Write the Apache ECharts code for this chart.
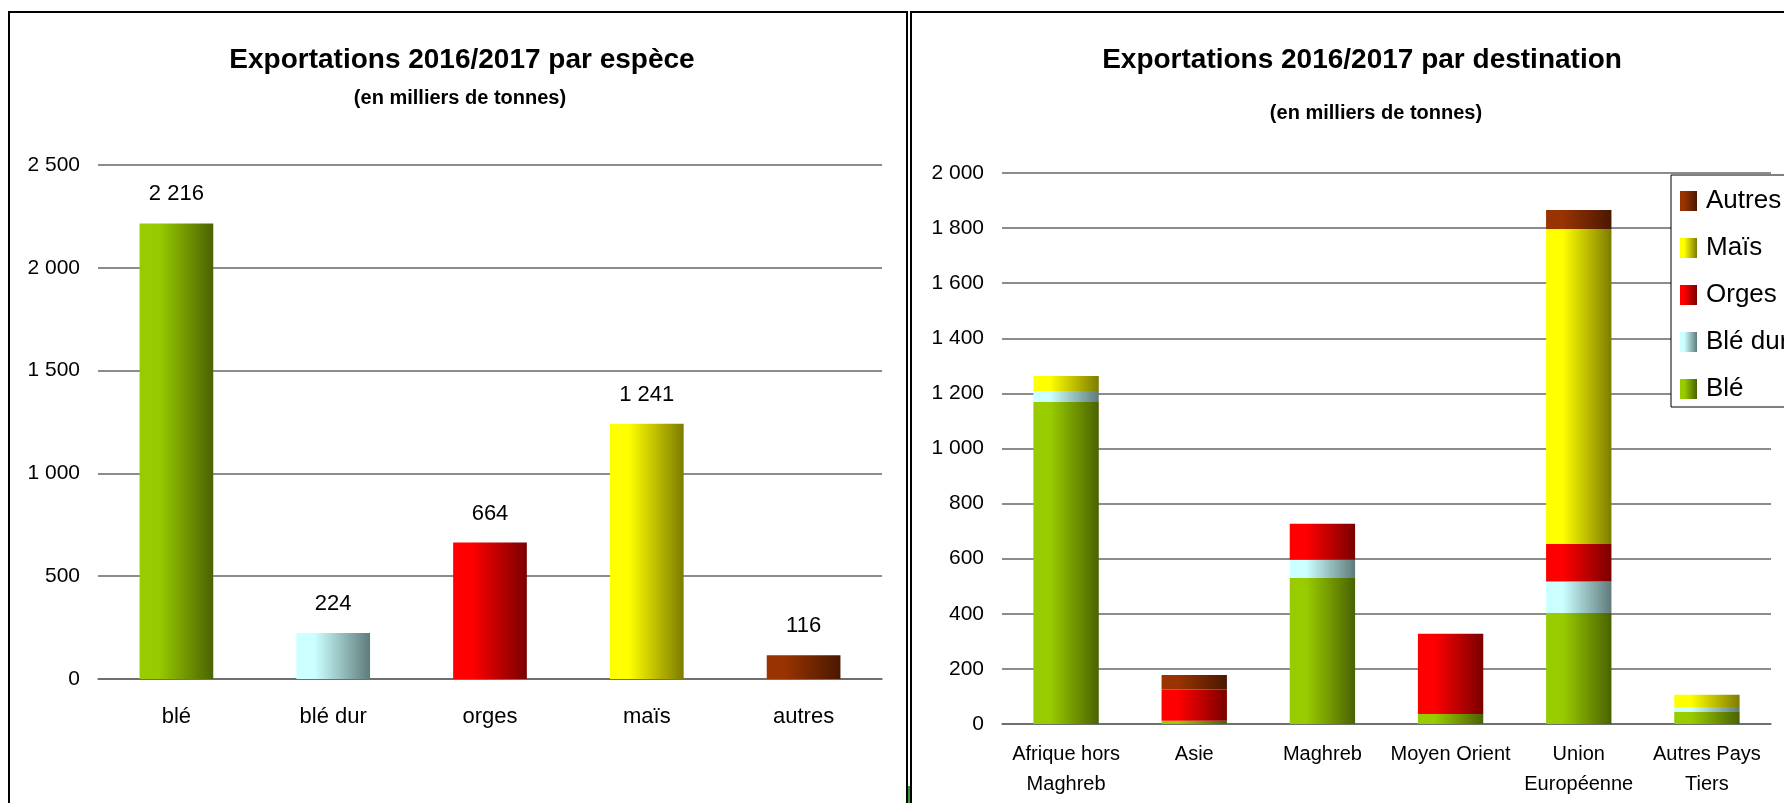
<!DOCTYPE html>
<html>
<head>
<meta charset="utf-8">
<script src="https://cdn.jsdelivr.net/npm/echarts@6/dist/echarts.min.js"></script>
<style>
  html, body { margin: 0; padding: 0; background: #fff; }
  #chart { width: 1784px; height: 803px; }
</style>
</head>
<body>
<div id="chart"></div>
<script>
// exportations par espèce (milliers de tonnes)
const especes = ['blé', 'blé dur', 'orges', 'maïs', 'autres']
const especeValues = [2216, 224, 664, 1241, 116]

// exportations par destination
const destinations = ['Afrique hors\nMaghreb', 'Asie', 'Maghreb', 'Moyen Orient', 'Union\nEuropéenne', 'Autres Pays\nTiers']
const seriesNames = ['Blé', 'Blé dur', 'Orges', 'Maïs', 'Autres']
const ble = [1169, 12, 530, 36, 403, 44]
const bleDur = [40, 0, 66, 0, 114, 18]
const orges = [0, 113, 131, 292, 136, 0]
const mais = [54, 0, 0, 0, 1144, 44]
const autres = [0, 53, 0, 0, 69, 0]

const leftTicks = [0, 500, 1000, 1500, 2000, 2500]
const rightTicks = [0, 200, 400, 600, 800, 1000, 1200, 1400, 1600, 1800, 2000]

const FONT = '"Liberation Sans", Arial, sans-serif'

// couleurs façon Excel : clair à gauche, foncé à droite
const palette = [
  ['#99CC00', '#4A6200'],
  ['#CCFFFF', '#5F7B7B'],
  ['#FF0000', '#7A0000'],
  ['#FFFF00', '#7C7C00'],
  ['#993300', '#4A1800']
]
const grad = c => new echarts.graphic.LinearGradient(0, 0, 1, 0, [
  { offset: 0, color: c[0] },
  { offset: 0.25, color: c[0] },
  { offset: 1, color: c[1] }
])

const fmt = v => String(v).replace(/\B(?=(\d{3})+(?!\d))/g, ' ')

const chart = echarts.init(document.getElementById('chart'))

const stacked = [ble, bleDur, orges, mais, autres].map((vals, i) => ({
  name: seriesNames[i],
  type: 'bar',
  stack: 'total',
  xAxisIndex: 1,
  yAxisIndex: 1,
  barWidth: '51%',
  itemStyle: { color: grad(palette[i]) },
  data: vals
}))

const option = {
  backgroundColor: '#fff',
  animation: false,
  textStyle: { fontFamily: FONT },
  title: [
    {
      text: 'Exportations 2016/2017 par espèce',
      left: 462, top: 46, textAlign: 'center', padding: 0,
      textStyle: { fontFamily: FONT, fontSize: 28, fontWeight: 'bold', color: '#000' }
    },
    {
      text: '(en milliers de tonnes)',
      left: 460, top: 88, textAlign: 'center', padding: 0,
      textStyle: { fontFamily: FONT, fontSize: 20, fontWeight: 'bold', color: '#000' }
    },
    {
      text: 'Exportations 2016/2017 par destination',
      left: 1362, top: 46, textAlign: 'center', padding: 0,
      textStyle: { fontFamily: FONT, fontSize: 28, fontWeight: 'bold', color: '#000' }
    },
    {
      text: '(en milliers de tonnes)',
      left: 1376, top: 103, textAlign: 'center', padding: 0,
      textStyle: { fontFamily: FONT, fontSize: 20, fontWeight: 'bold', color: '#000' }
    }
  ],
  legend: {
    data: ['Autres', 'Maïs', 'Orges', 'Blé dur', 'Blé'],
    orient: 'vertical',
    left: 1671,
    top: 175,
    padding: [13, 30, 5, 9],
    itemGap: 21,
    itemWidth: 17,
    itemHeight: 20,
    icon: 'rect',
    backgroundColor: '#fff',
    borderColor: '#000',
    borderWidth: 1,
    textStyle: { fontFamily: FONT, fontSize: 26, color: '#000', padding: [0, 0, 0, 4] }
  },
  grid: [
    { left: 98, top: 165, width: 784, height: 514 },
    { left: 1002, top: 173, width: 769, height: 551 }
  ],
  xAxis: [
    {
      type: 'category', gridIndex: 0, data: especes,
      axisTick: { show: false },
      axisLine: { lineStyle: { color: '#666', width: 1.5 } },
      axisLabel: { interval: 0, margin: 27, fontSize: 22, color: '#000', fontFamily: FONT }
    },
    {
      type: 'category', gridIndex: 1, data: destinations,
      axisTick: { show: false },
      axisLine: { lineStyle: { color: '#666', width: 1.5 } },
      axisLabel: { interval: 0, margin: 15, fontSize: 20, lineHeight: 30, color: '#000', fontFamily: FONT }
    }
  ],
  yAxis: [
    {
      type: 'value', gridIndex: 0,
      min: leftTicks[0], max: leftTicks[leftTicks.length - 1], interval: leftTicks[1] - leftTicks[0],
      axisLine: { show: false }, axisTick: { show: false },
      splitLine: { lineStyle: { color: '#666', width: 1.5 } },
      axisLabel: { margin: 18, fontSize: 21, color: '#000', fontFamily: FONT, formatter: fmt }
    },
    {
      type: 'value', gridIndex: 1,
      min: rightTicks[0], max: rightTicks[rightTicks.length - 1], interval: rightTicks[1] - rightTicks[0],
      axisLine: { show: false }, axisTick: { show: false },
      splitLine: { lineStyle: { color: '#666', width: 1.5 } },
      axisLabel: { margin: 18, fontSize: 21, color: '#000', fontFamily: FONT, formatter: fmt }
    }
  ],
  series: [
    {
      name: 'espèce',
      type: 'bar',
      xAxisIndex: 0,
      yAxisIndex: 0,
      barWidth: '47%',
      data: especeValues.map((v, i) => ({ value: v, itemStyle: { color: grad(palette[i]) } })),
      label: {
        show: true, position: 'top', distance: 18,
        fontSize: 22, color: '#000', fontFamily: FONT,
        formatter: p => fmt(p.value)
      }
    },
    ...stacked
  ],
  graphic: [
    { type: 'rect', shape: { x: 9, y: 12, width: 898, height: 820 }, style: { fill: 'none', stroke: '#000', lineWidth: 2 }, z: 100 },
    { type: 'rect', shape: { x: 911, y: 12, width: 900, height: 820 }, style: { fill: 'none', stroke: '#000', lineWidth: 2 }, z: 100 },
    { type: 'rect', shape: { x: 908, y: 786, width: 2, height: 20 }, style: { fill: '#3a9a3a' }, z: 101 }
  ]
}

chart.setOption(option)
</script>
</body>
</html>
